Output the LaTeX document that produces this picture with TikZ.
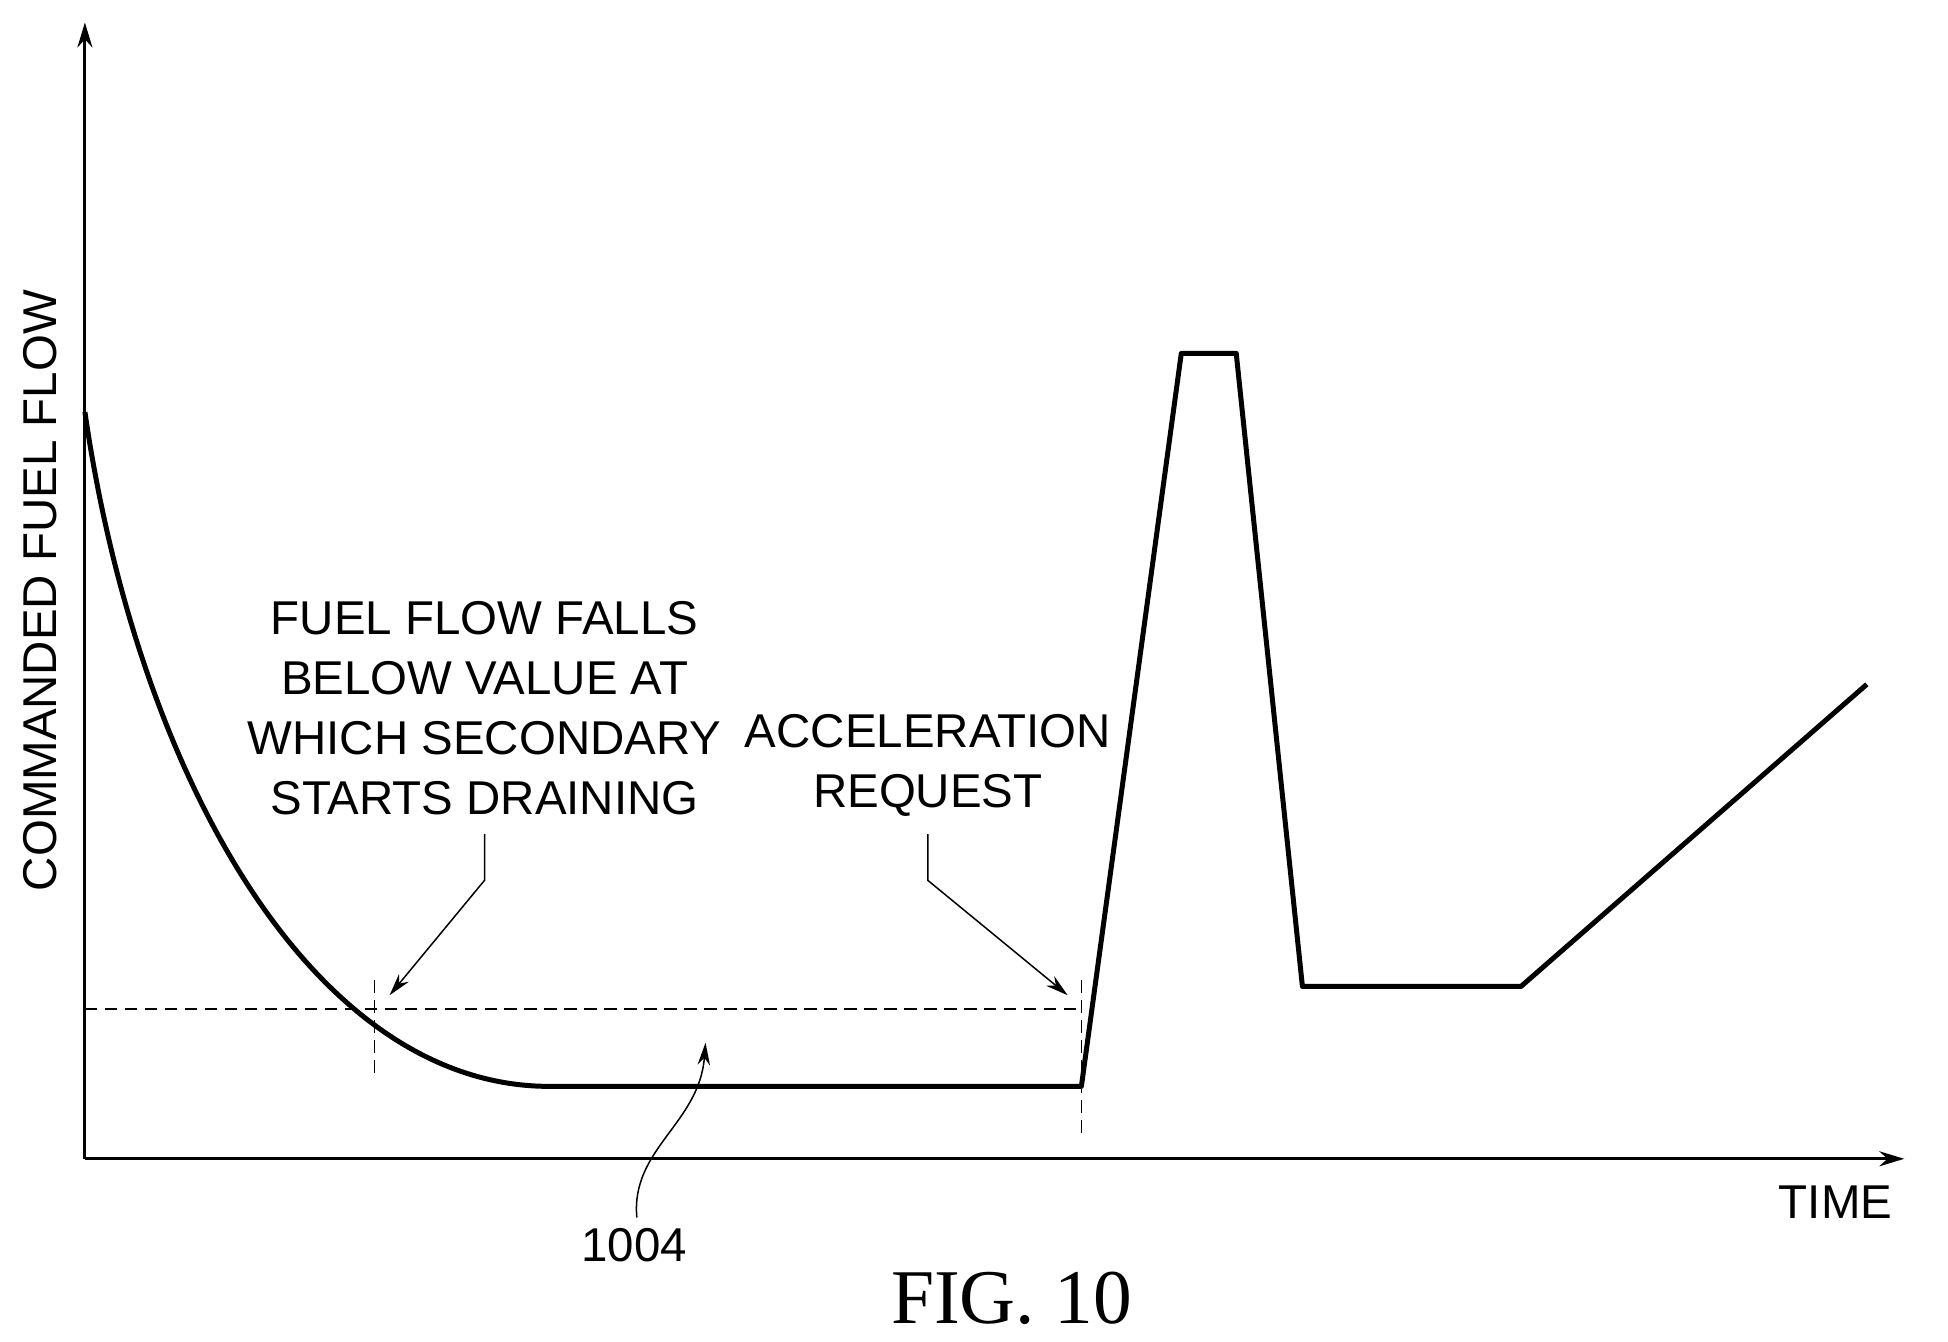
\documentclass[tikz,border=0pt]{standalone}
\usepackage{fontspec}
\setmainfont{Liberation Sans}
\newfontfamily\serif{Liberation Serif}
\usetikzlibrary{arrows.meta}
\begin{document}
\begin{tikzpicture}[x=0.5pt,y=-0.5pt,
  lbl/.style={font=\fontsize{19}{24}\selectfont,align=center,inner sep=0pt},
  lead/.style={line width=0.6pt,-{Stealth[length=9pt,width=5pt]}},
  dsh/.style={line width=0.6pt,dash pattern=on 5pt off 3pt}]
\useasboundingbox (0,0) rectangle (1560,1074);
\coordinate (o) at (68,928);
\coordinate (ytop) at (68,18);
\coordinate (xend) at (1525,928);
\draw[line width=1.2pt,-{Stealth[length=10pt,width=6pt]}] (o) -- (ytop);
\draw[line width=1.2pt,-{Stealth[length=10pt,width=6pt]}] (o) -- (xend);
\draw[line width=2pt,line join=round] (68,330) .. controls (110,620) and (250,870) .. (440,870) -- (866,870) -- (946,283) -- (990,283) -- (1043,790) -- (1218,790) -- (1495,548);
\draw[dsh] (68,808) -- (866,808);
\draw[dsh] (300,785) -- (300,862);
\draw[dsh] (866,785) -- (866,912);
\node[lbl] (t1) at (388,567) {FUEL FLOW FALLS\\BELOW VALUE AT\\WHICH SECONDARY\\STARTS DRAINING};
\node[lbl] (t2) at (743,613) {ACCELERATION\\REQUEST};
\coordinate (a1) at (312,797);
\coordinate (a2) at (855,797);
\draw[lead] (388,668) -- (388,705) -- (a1);
\draw[lead] (743,668) -- (743,705) -- (a2);
\node[lbl] (n1004) at (508,997) {1004};
\coordinate (a3) at (565,835);
\draw[lead] (510,975) .. controls (505,920) and (560,900) .. (a3);
\node[lbl] (time) at (1470,963) {TIME};
\node[lbl,rotate=90] (yl) at (32,473) {COMMANDED FUEL FLOW};
\node[font=\serif\fontsize{31}{36}\selectfont,inner sep=0pt] (fig) at (810,1040) {FIG. 10};
\end{tikzpicture}
\end{document}
